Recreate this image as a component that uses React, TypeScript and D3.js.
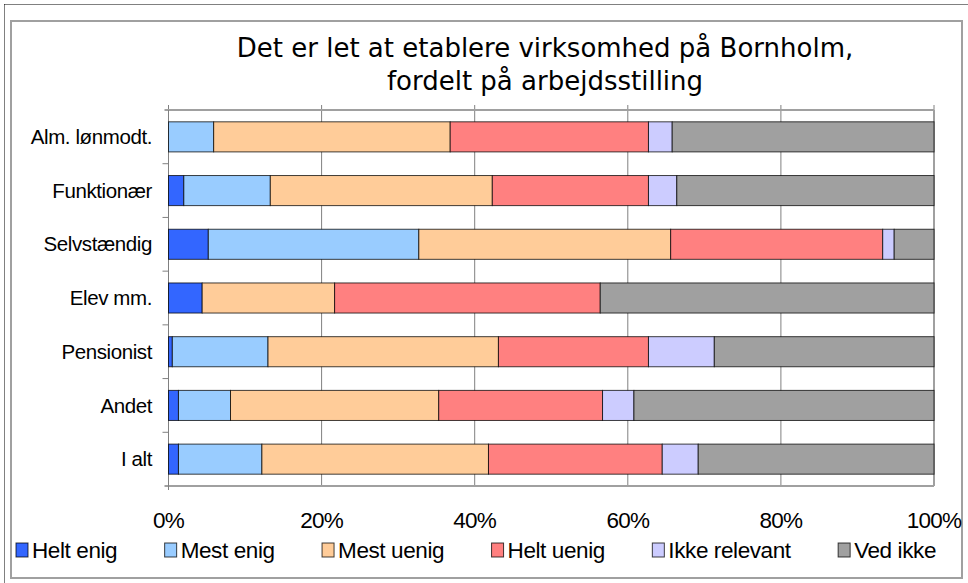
import * as d3 from "d3";
import { useMemo } from "react";

const categories = [
  "Alm. lønmodt.",
  "Funktionær",
  "Selvstændig",
  "Elev mm.",
  "Pensionist",
  "Andet",
  "I alt",
];

const seriesNames = [
  "Helt enig",
  "Mest enig",
  "Mest uenig",
  "Helt uenig",
  "Ikke relevant",
  "Ved ikke",
];

const seriesColors = ["#3366FF", "#99CCFF", "#FFCC99", "#FF8080", "#CCCCFF", "#A0A0A0"];

// percent per category, in series order
const heltEnig = [0, 2.0, 5.2, 4.4, 0.5, 1.3, 1.3];
const mestEnig = [5.9, 11.3, 27.5, 0, 12.5, 6.8, 10.9];
const mestUenig = [30.9, 29.0, 32.9, 17.3, 30.1, 27.2, 29.6];
const heltUenig = [25.9, 20.4, 27.7, 34.7, 19.6, 21.4, 22.7];
const ikkeRelevant = [3.1, 3.7, 1.5, 0, 8.6, 4.1, 4.7];
const vedIkke = [34.2, 33.6, 5.2, 43.6, 28.7, 39.2, 30.8];

const tickValues = [0, 20, 40, 60, 80, 100];

const W = 968;
const H = 583;
const plot = { left: 168.5, right: 934, top: 110, bottom: 486 };

const labelFont = "Liberation Sans, Arial, sans-serif";

function measure(text: string, font: string, spacing: number) {
  const c = document.createElement("canvas").getContext("2d");
  if (!c) return text.length * 11;
  c.font = font;
  return c.measureText(text).width + spacing * text.length;
}

export default function App() {
  const rows = useMemo(() => {
    const cols = [heltEnig, mestEnig, mestUenig, heltUenig, ikkeRelevant, vedIkke];
    return categories.map((cat, i) => {
      const r: Record<string, number | string> = { cat };
      seriesNames.forEach((s, j) => (r[s] = cols[j][i]));
      return r;
    });
  }, []);

  const stacked = d3.stack<any>().keys(seriesNames)(rows);

  const x = d3.scaleLinear().domain([0, 100]).range([plot.left, plot.right]);
  const y = d3
    .scaleBand()
    .domain(categories)
    .range([plot.top, plot.bottom])
    .paddingInner(0.44)
    .paddingOuter(0.22);
  const band = d3.scaleBand().domain(categories).range([plot.top, plot.bottom]);

  // legend layout
  const legendFontSize = 22.5;
  const legendSpacing = -0.4;
  const legendFont = `${legendFontSize}px ${labelFont}`;
  const sq = 12;
  const sqGap = 4;
  const widths = seriesNames.map((s) => measure(s, legendFont, legendSpacing));
  const legendStart = 16;
  const legendEnd = 936;
  const used = widths.reduce((a, b) => a + b, 0) + seriesNames.length * (sq + sqGap);
  const gap = (legendEnd - legendStart - used) / (seriesNames.length - 1);
  const legendX: number[] = [];
  let cx = legendStart;
  widths.forEach((w) => {
    legendX.push(cx);
    cx += sq + sqGap + w + gap;
  });
  const legendY = 549;

  return (
    <svg
      width={W}
      height={H}
      style={{ position: "absolute", left: 0, top: 0, background: "#fff" }}
    >
      {/* dotted outer border */}
      <line x1={4.5} y1={4.5} x2={W} y2={4.5} stroke="#000" strokeDasharray="1,1" />
      <line x1={4.5} y1={4.5} x2={4.5} y2={H} stroke="#000" strokeDasharray="1,1" />

      {/* chart frame */}
      <rect x={11} y={21} width={951} height={557} fill="#fff" stroke="#a0a0a0" strokeWidth={2} />

      {/* title */}
      <text
        textAnchor="middle"
        fontFamily="DejaVu Sans, Verdana, sans-serif"
        fontSize={26}
        fill="#000"
      >
        <tspan x={545} y={57}>
          Det er let at etablere virksomhed på Bornholm,
        </tspan>
        <tspan x={545} y={90}>
          fordelt på arbejdsstilling
        </tspan>
      </text>

      {/* gridlines */}
      {tickValues.slice(1, -1).map((t) => (
        <line
          key={t}
          x1={x(t)}
          x2={x(t)}
          y1={plot.top}
          y2={plot.bottom}
          stroke="#808080"
          strokeWidth={1}
        />
      ))}

      {/* top ticks */}
      {tickValues.map((t) => (
        <line
          key={"tt" + t}
          x1={x(t)}
          x2={x(t)}
          y1={plot.top - 5}
          y2={plot.top}
          stroke="#808080"
        />
      ))}

      {/* plot border */}
      <line x1={plot.left - 4} x2={plot.right} y1={plot.top} y2={plot.top} stroke="#a0a0a0" strokeWidth={2} />
      <line x1={plot.left - 4} x2={plot.right} y1={plot.bottom} y2={plot.bottom} stroke="#a0a0a0" strokeWidth={2} />
      <line x1={plot.right} x2={plot.right} y1={plot.top} y2={plot.bottom} stroke="#a0a0a0" strokeWidth={2} />
      <line x1={plot.left} x2={plot.left} y1={plot.top} y2={plot.bottom + 4} stroke="#808080" strokeWidth={1} />

      {/* category ticks */}
      {categories.slice(1).map((c) => (
        <line
          key={"ct" + c}
          x1={plot.left - 6}
          x2={plot.left}
          y1={band(c)}
          y2={band(c)}
          stroke="#808080"
        />
      ))}

      {/* bars */}
      {stacked.map((s, j) => (
        <g key={s.key} fill={seriesColors[j]}>
          {s.map((d, i) =>
            d[1] - d[0] > 0 ? (
              <rect
                key={i}
                x={x(d[0])}
                y={y(categories[i])}
                width={x(d[1]) - x(d[0])}
                height={y.bandwidth()}
                stroke="#000"
                strokeOpacity={0.75}
                strokeWidth={1}
              />
            ) : null
          )}
        </g>
      ))}

      {/* category labels */}
      {categories.map((c) => (
        <text
          key={"cl" + c}
          x={152}
          y={(band(c) as number) + band.bandwidth() / 2}
          dy="0.35em"
          textAnchor="end"
          fontFamily={labelFont}
          fontSize={20.5}
          letterSpacing={-0.4}
          fill="#000"
        >
          {c}
        </text>
      ))}

      {/* value axis labels */}
      {tickValues.map((t) => (
        <text
          key={"vl" + t}
          x={x(t)}
          y={528}
          textAnchor="middle"
          fontFamily={labelFont}
          fontSize={22.5}
          letterSpacing={-0.8}
          fill="#000"
        >
          {t}%
        </text>
      ))}

      {/* legend */}
      {seriesNames.map((s, j) => (
        <g key={"lg" + s}>
          <rect
            x={legendX[j]}
            y={legendY - 6}
            width={sq}
            height={14}
            fill={seriesColors[j]}
            stroke="#000"
            strokeOpacity={0.75}
          />
          <text
            x={legendX[j] + sq + sqGap}
            y={legendY + 1}
            dy="0.35em"
            fontFamily={labelFont}
            fontSize={legendFontSize}
            letterSpacing={legendSpacing}
            fill="#000"
          >
            {s}
          </text>
        </g>
      ))}
    </svg>
  );
}
